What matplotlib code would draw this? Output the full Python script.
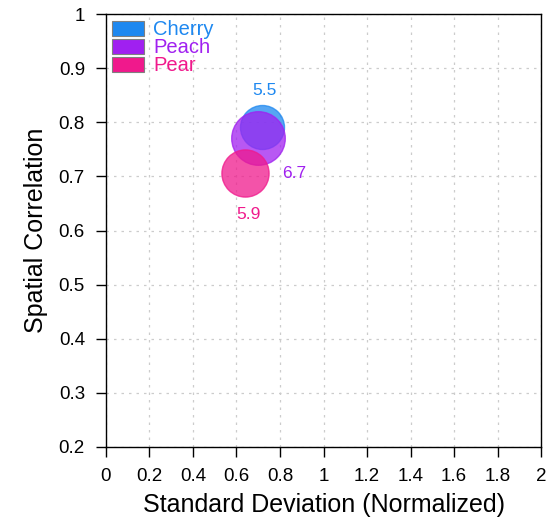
import matplotlib.pyplot as plt

names = ['Cherry', 'Peach', 'Pear']
colors = ['#1e88f0', '#a020f0', '#f0198c']
std_norm = [0.717, 0.699, 0.637]
corr = [0.792, 0.772, 0.707]
values = [5.5, 6.7, 5.9]
label_offsets = [(2, 26), (26, -26), (3, -30)]

plt.rcParams['font.family'] = ['Liberation Sans', 'DejaVu Sans']

fig = plt.figure(figsize=(5.54, 5.27), dpi=100)
ax = fig.add_axes([0.191, 0.152, 0.786, 0.821])

for i in range(len(names)):
    d = 5.76 * values[i]
    ax.scatter(std_norm[i], corr[i], s=d ** 2, color=colors[i], alpha=0.75,
               edgecolors=colors[i], linewidths=1, zorder=3 + i)
    ax.annotate(str(values[i]), (std_norm[i], corr[i]), xytext=label_offsets[i],
                textcoords='offset points', ha='center', va='center',
                color=colors[i], fontsize=12.5)

handles = [plt.Rectangle((0, 0), 1, 1, facecolor=c, edgecolor='gray', lw=0.8) for c in colors]
leg = ax.legend(handles, names, loc='upper left', frameon=False, fontsize=14.5,
                handlelength=1.6, handleheight=0.75, handletextpad=0.45,
                labelspacing=-0.05, borderaxespad=0.1, borderpad=0.2)
for t, c in zip(leg.get_texts(), colors):
    t.set_color(c)

ax.set_xlim(0, 2)
ax.set_ylim(0.2, 1)
ax.set_xticks([0, 0.2, 0.4, 0.6, 0.8, 1, 1.2, 1.4, 1.6, 1.8, 2])
ax.set_xticklabels(['0', '0.2', '0.4', '0.6', '0.8', '1', '1.2', '1.4', '1.6', '1.8', '2'])
ax.set_yticks([0.2, 0.3, 0.4, 0.5, 0.6, 0.7, 0.8, 0.9, 1])
ax.set_yticklabels(['0.2', '0.3', '0.4', '0.5', '0.6', '0.7', '0.8', '0.9', '1'])
ax.tick_params(direction='out', length=7, width=1, labelsize=13.5, pad=8)
ax.grid(True, color='#cccccc', linestyle=(0, (2, 4)), linewidth=0.9)
for s in ax.spines.values():
    s.set_linewidth(1)
ax.set_xlabel('Standard Deviation (Normalized)', fontsize=18, labelpad=6)
ax.set_ylabel('Spatial Correlation', fontsize=18, labelpad=8)

fig.savefig('out.png', dpi=100)
